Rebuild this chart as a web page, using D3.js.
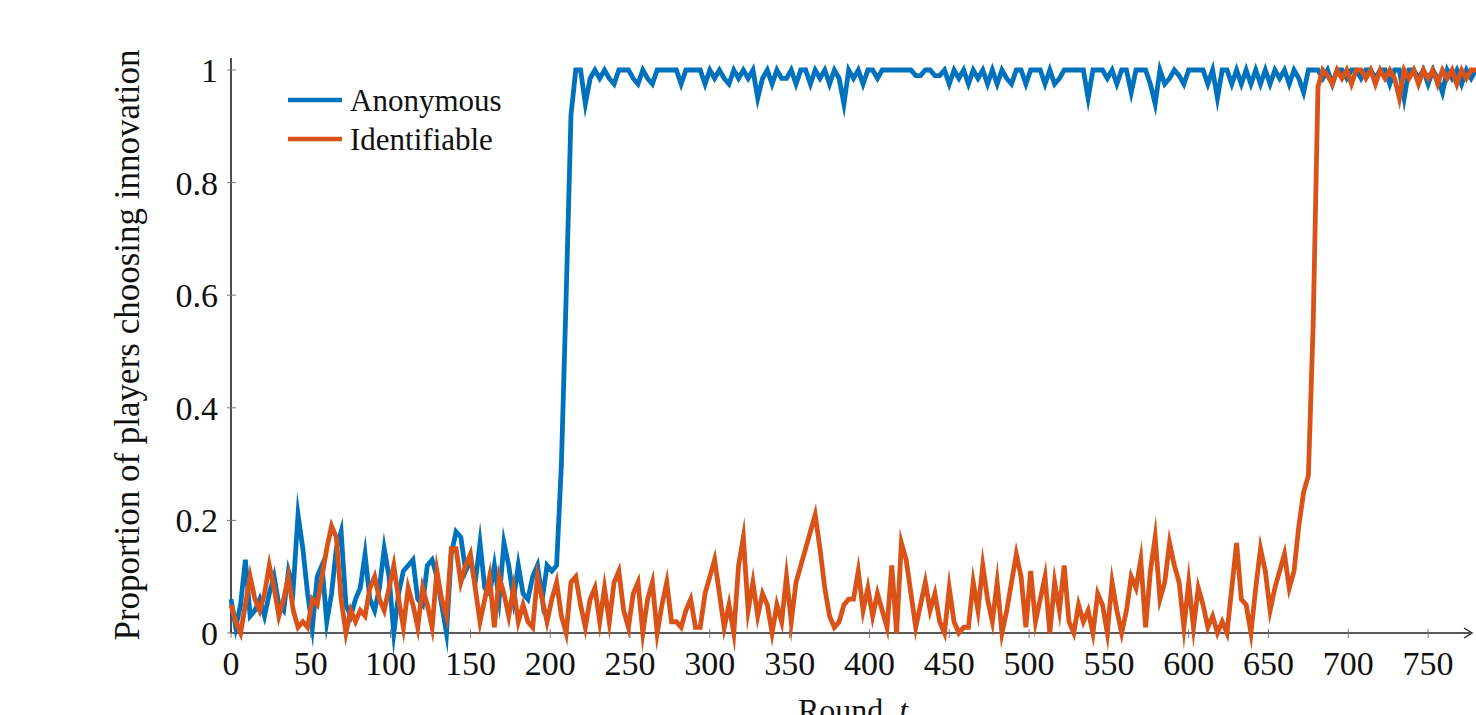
<!DOCTYPE html>
<html>
<head>
<meta charset="utf-8">
<script src="https://cdn.jsdelivr.net/npm/d3@7"></script>
<style>
body { margin: 0; background: #fff; }
svg { display: block; font-family: "Liberation Serif", "DejaVu Serif", serif; }
</style>
</head>
<body>
<svg width="1476" height="715"></svg>
<script>
// one value every 3 rounds, round 0 .. 780
var step = 3
var seriesNames = ["Anonymous", "Identifiable"]
var xTicks = [0, 50, 100, 150, 200, 250, 300, 350, 400, 450, 500, 550, 600, 650, 700, 750]
var yTicks = [0, 0.2, 0.4, 0.6, 0.8, 1]

var anonymous = [
  0.06,0.01,0.05,0.13,0.03,0.04,0.06,0.03,0.07,0.10,
  0.05,0.04,0.11,0.08,0.21,0.15,0.07,0.01,0.10,0.12,
  0.02,0.07,0.15,0.18,0.05,0.03,0.06,0.08,0.14,0.06,
  0.04,0.08,0.15,0.10,0.00,0.07,0.11,0.12,0.13,0.06,
  0.05,0.12,0.13,0.10,0.05,0.00,0.14,0.18,0.17,0.11,
  0.13,0.09,0.16,0.08,0.07,0.12,0.06,0.16,0.12,0.06,
  0.12,0.07,0.06,0.10,0.12,0.06,0.12,0.11,0.12,0.30,
  0.60,0.92,1,1,0.94,0.985,1,0.985,1,0.985,
  0.975,1,1,1,0.985,0.975,1,0.985,0.975,1,
  1,1,1,1,0.975,1,1,1,1,0.975,
  1,0.985,1,0.985,0.975,1,0.985,1,0.985,1,
  0.95,0.985,1,0.975,1,0.985,0.985,1,0.975,1,
  1,0.975,1,0.985,1,0.975,1,0.985,0.94,1,
  0.985,1,0.975,1,1,0.985,1,1,1,1,
  1,1,1,0.99,0.99,1,1,0.99,0.99,1,
  0.975,1,0.985,1,0.975,1,0.985,1,0.975,1,
  0.975,1,0.985,0.975,1,1,0.975,1,1,1,
  0.975,1,0.975,0.985,1,1,1,1,1,0.95,
  1,1,1,0.985,1,0.975,1,1,0.96,1,
  1,1,0.975,0.94,1,0.975,0.985,1,0.99,0.975,
  1,1,1,1,0.975,1,0.95,1,1,0.975,
  1,0.975,1,0.975,1,0.975,1,0.975,1,0.985,
  1,0.975,1,0.985,0.96,1,1,1,0.985,1,
  0.975,1,1,0.985,1,1,0.985,1,1,0.985,
  1,1,0.975,1,1,0.95,1,1,0.985,1,
  0.975,1,0.985,0.96,1,0.985,1,0.975,1,0.985,
  1
]

var identifiable = [
  0.05,0.02,0.00,0.05,0.10,0.06,0.04,0.07,0.12,0.08,
  0.03,0.06,0.10,0.04,0.01,0.02,0.01,0.06,0.05,0.10,
  0.15,0.19,0.17,0.06,0.00,0.04,0.02,0.04,0.03,0.08,
  0.10,0.06,0.04,0.08,0.12,0.06,0.01,0.08,0.05,0.01,
  0.08,0.05,0.01,0.11,0.06,0.03,0.15,0.15,0.09,0.12,
  0.14,0.08,0.02,0.06,0.10,0.01,0.10,0.07,0.03,0.08,
  0.02,0.05,0.02,0.01,0.10,0.06,0.02,0.06,0.09,0.03,
  0.00,0.09,0.10,0.05,0.01,0.06,0.08,0.02,0.08,0.02,
  0.09,0.11,0.04,0.01,0.07,0.09,0.00,0.06,0.09,0.00,
  0.05,0.09,0.02,0.02,0.01,0.04,0.06,0.01,0.01,0.07,
  0.10,0.13,0.07,0.01,0.05,0.00,0.12,0.17,0.04,0.09,
  0.03,0.07,0.05,0.00,0.05,0.02,0.10,0.02,0.09,0.12,
  0.15,0.18,0.21,0.15,0.08,0.03,0.01,0.02,0.05,0.06,
  0.06,0.11,0.04,0.08,0.03,0.07,0.04,0.01,0.12,0.00,
  0.16,0.13,0.07,0.01,0.05,0.09,0.04,0.07,0.02,0.00,
  0.08,0.02,0.00,0.01,0.01,0.09,0.04,0.12,0.06,0.02,
  0.09,0.00,0.04,0.09,0.14,0.10,0.01,0.11,0.02,0.06,
  0.10,0.00,0.09,0.04,0.12,0.02,0.00,0.05,0.02,0.04,
  0.00,0.07,0.05,0.00,0.09,0.04,0.00,0.04,0.10,0.08,
  0.13,0.01,0.11,0.17,0.06,0.09,0.16,0.12,0.09,0.01,
  0.09,0.01,0.08,0.05,0.01,0.03,0.00,0.02,0.00,0.08,
  0.16,0.06,0.05,0.00,0.08,0.15,0.11,0.04,0.08,0.11,
  0.14,0.08,0.11,0.19,0.25,0.28,0.55,0.97,1,0.99,
  0.975,1,0.985,1,0.975,1,1,0.985,1,0.975,
  1,0.985,1,0.985,0.95,1,0.985,1,0.975,1,
  0.985,1,0.975,1,0.985,1,0.975,1,0.985,1,
  1
]

var color = ["#0072BD", "#D95319"]

var svg = d3.select("svg")
var x = d3.scaleLinear().domain([0, 780]).range([231, 1476])
var y = d3.scaleLinear().domain([0, 1]).range([633, 70])

var line = d3.line()
    .x(function(d, i) { return x(i * step) })
    .y(function(d) { return y(d) })

// axes
var xAxis = svg.append("g").attr("transform", "translate(0,633)")
xAxis.append("line").attr("x1", 231).attr("x2", 1470).attr("stroke", "#222").attr("stroke-width", 1.6)
xAxis.append("path").attr("d", "M1464,-5 L1472,0 L1464,5").attr("fill", "none").attr("stroke", "#222").attr("stroke-width", 1.4)
xAxis.selectAll(".xt").data(xTicks).enter().append("line")
    .attr("x1", function(d) { return x(d) }).attr("x2", function(d) { return x(d) })
    .attr("y1", -4).attr("y2", 5).attr("stroke", "#777").attr("stroke-width", 1)
xAxis.selectAll(".xl").data(xTicks).enter().append("text")
    .attr("x", function(d) { return x(d) }).attr("y", 42)
    .attr("text-anchor", "middle").attr("font-size", 34).attr("fill", "#111")
    .text(function(d) { return d })

var yAxis = svg.append("g")
yAxis.append("line").attr("x1", 231).attr("x2", 231).attr("y1", 58).attr("y2", 633).attr("stroke", "#222").attr("stroke-width", 1.6)
yAxis.selectAll(".yt").data(yTicks).enter().append("line")
    .attr("x1", 227).attr("x2", 236)
    .attr("y1", function(d) { return y(d) }).attr("y2", function(d) { return y(d) })
    .attr("stroke", "#777").attr("stroke-width", 1)
yAxis.selectAll(".yl").data(yTicks).enter().append("text")
    .attr("x", 218).attr("y", function(d) { return y(d) + 12 })
    .attr("text-anchor", "end").attr("font-size", 34).attr("fill", "#111")
    .text(function(d) { return d })

svg.append("text")
    .attr("transform", "translate(139,345) rotate(-90)")
    .attr("text-anchor", "middle").attr("font-size", 35).attr("fill", "#111")
    .text("Proportion of players choosing innovation")

var xl = svg.append("text").attr("x", 853).attr("y", 721)
    .attr("text-anchor", "middle").attr("font-size", 32).attr("fill", "#111")
xl.append("tspan").text("Round, ")
xl.append("tspan").attr("font-style", "italic").text("t")

// series
svg.append("g").selectAll("path")
    .data([anonymous, identifiable])
    .enter().append("path")
    .attr("d", line)
    .attr("fill", "none")
    .attr("stroke", function(d, i) { return color[i] })
    .attr("stroke-width", 4.8)
    .attr("stroke-linejoin", "miter")
    .attr("stroke-miterlimit", 10)

// legend
var legend = svg.selectAll(".legend")
    .data(seriesNames)
    .enter().append("g")
    .attr("class", "legend")
    .attr("transform", function(d, i) { return "translate(288," + (100 + 39 * i) + ")" })
legend.append("line")
    .attr("x1", 0).attr("x2", 54)
    .attr("stroke", function(d, i) { return color[i] })
    .attr("stroke-width", 4.5)
legend.append("text")
    .attr("x", 62).attr("y", 11)
    .attr("font-size", 31).attr("fill", "#111")
    .text(function(d) { return d })
</script>
</body>
</html>
